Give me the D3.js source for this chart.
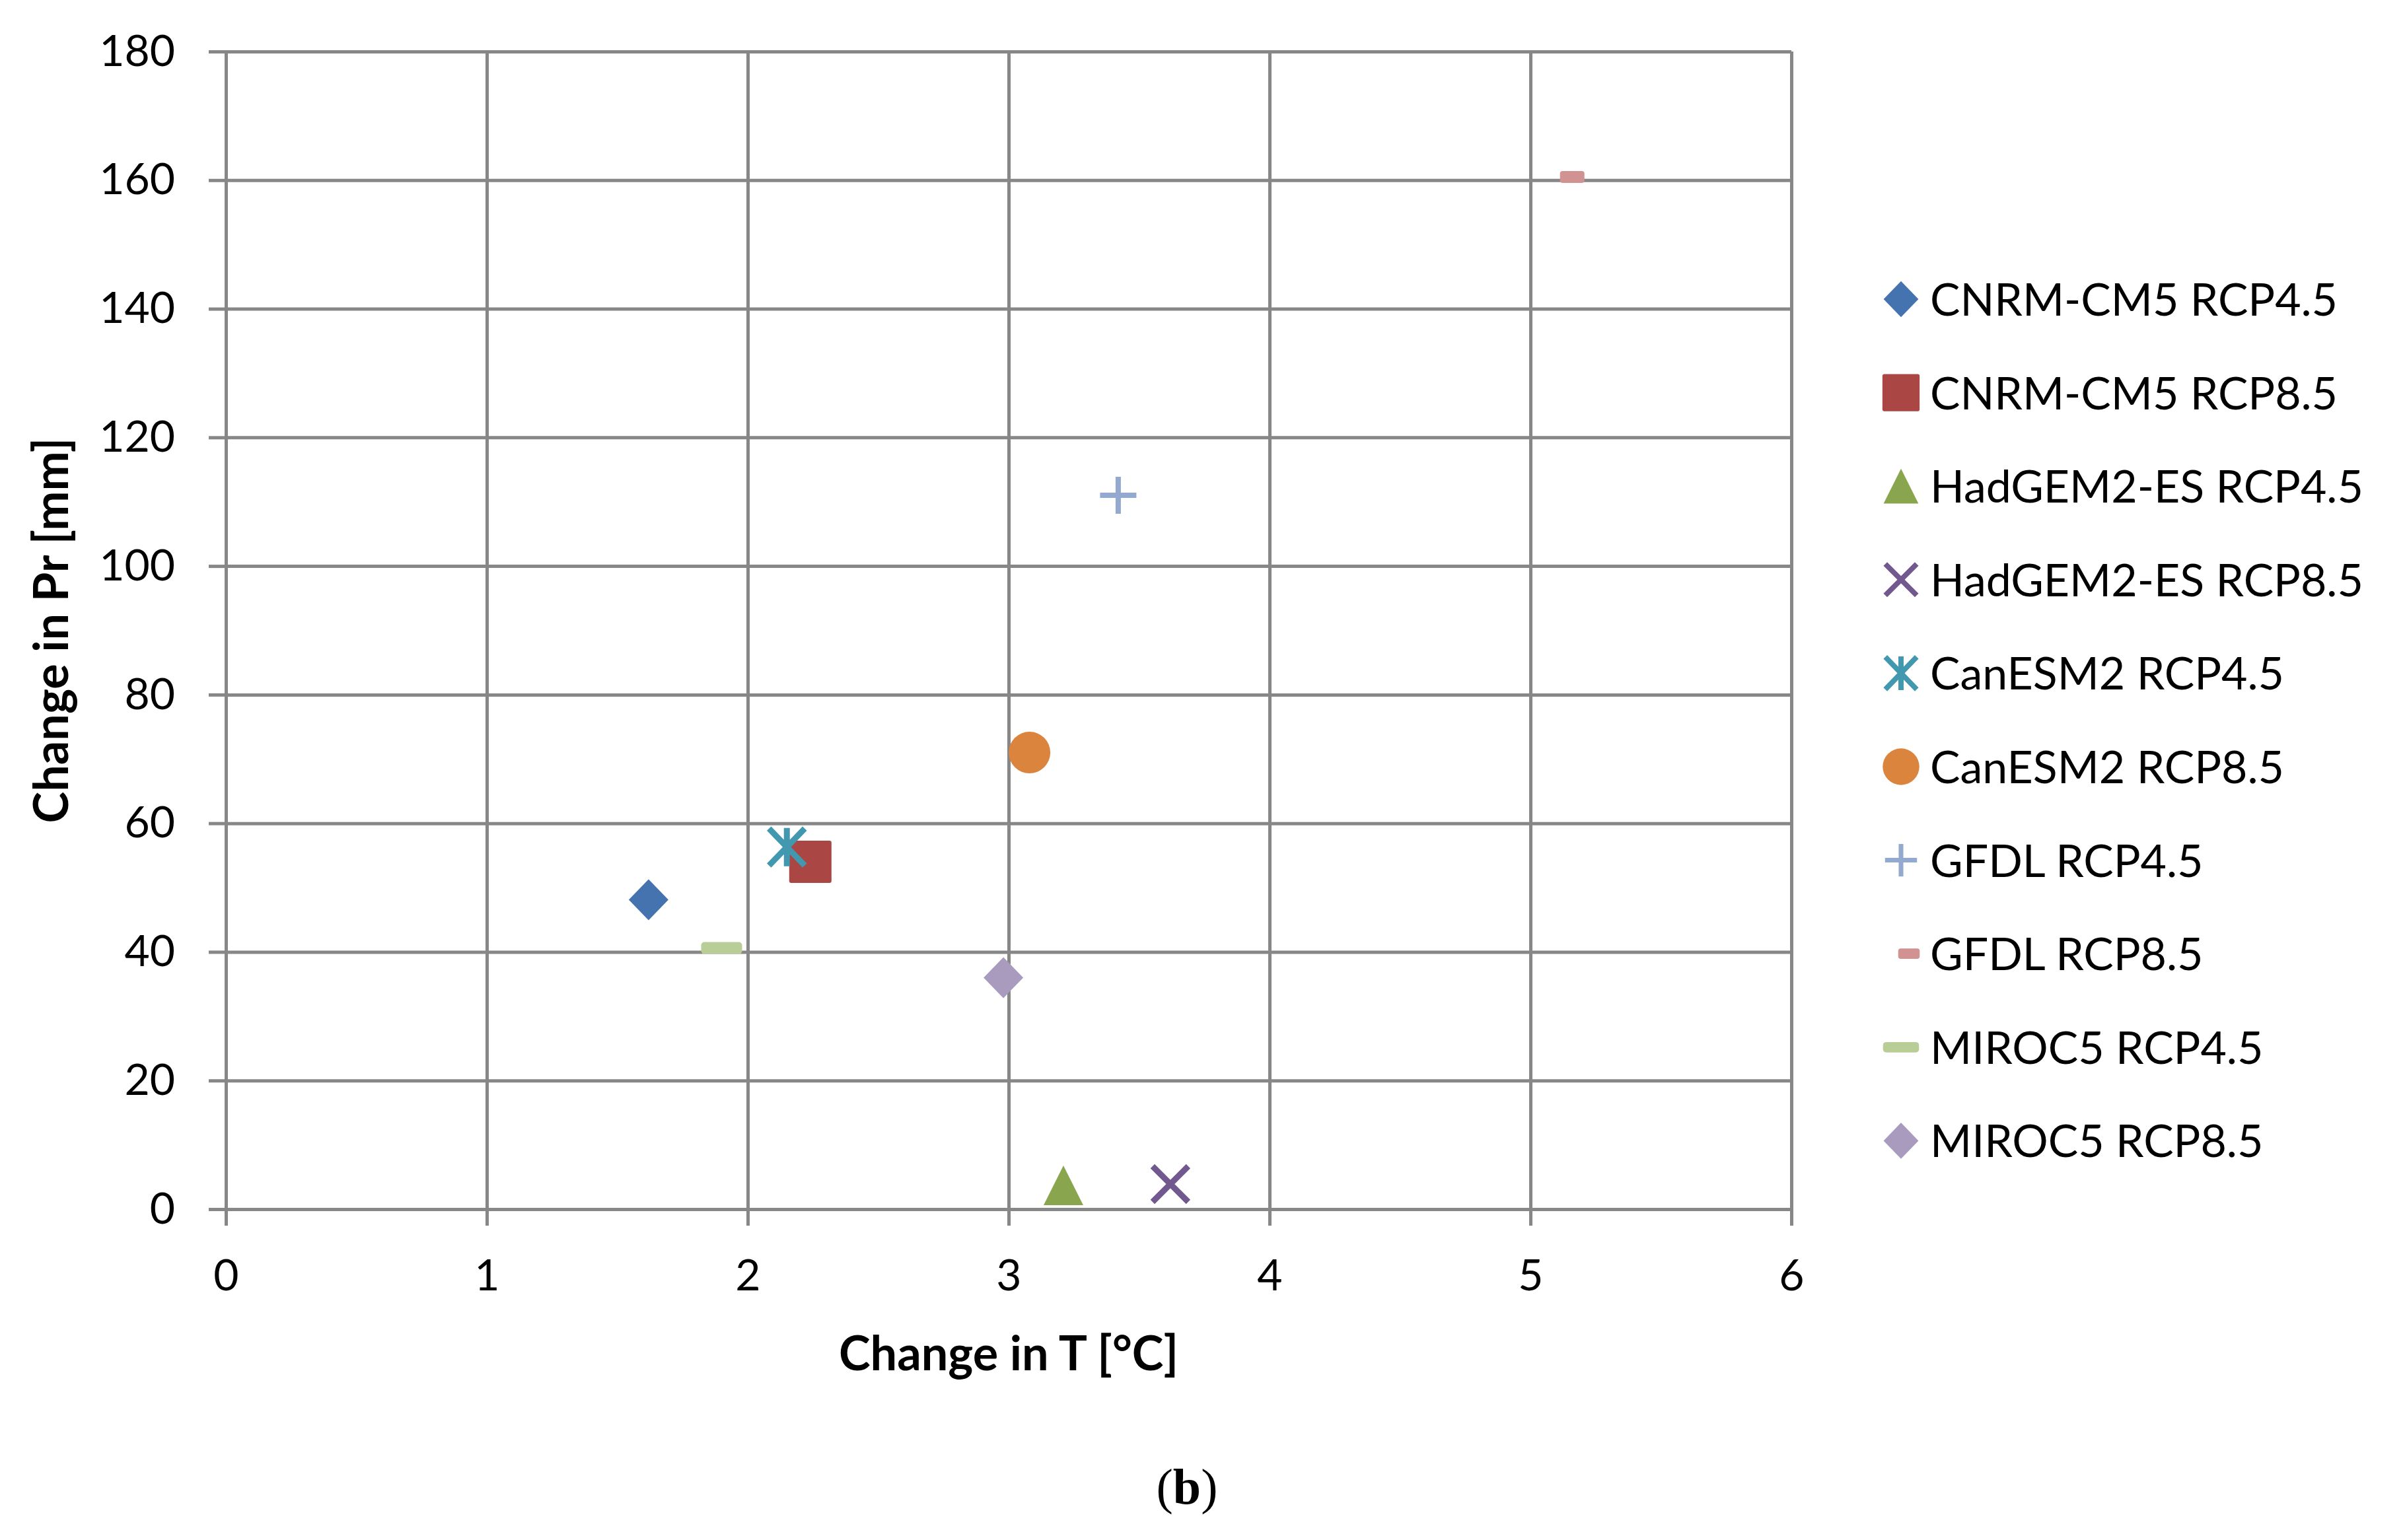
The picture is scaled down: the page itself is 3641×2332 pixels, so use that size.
<!DOCTYPE html>
<html>
<head>
<meta charset="utf-8">
<script src="https://cdn.jsdelivr.net/npm/d3@7"></script>
<style>
  body { margin: 0; background: #fff; }
  text { font-family: Lato, "Open Sans", sans-serif; fill: #000; }
</style>
</head>
<body>
<div id="chart"></div>
<script>
// scatter of model runs: change in temperature vs change in precipitation

var seriesNames = ['CNRM-CM5 RCP4.5', 'CNRM-CM5 RCP8.5', 'HadGEM2-ES RCP4.5', 'HadGEM2-ES RCP8.5',
  'CanESM2 RCP4.5', 'CanESM2 RCP8.5', 'GFDL RCP4.5', 'GFDL RCP8.5', 'MIROC5 RCP4.5', 'MIROC5 RCP8.5'];
var tempChange = [1.62, 2.24, 3.21, 3.62, 2.15, 3.08, 3.42, 5.16, 1.90, 2.98];
var precipChange = [48.1, 54.0, 3.7, 3.9, 56.3, 71.0, 111.0, 160.5, 40.6, 36.0];
var seriesColors = ['#4573b0', '#aa4643', '#89a54e', '#71588f', '#4198af',
  '#db843d', '#93a9cf', '#d19392', '#b9cd96', '#a99bbd'];
var seriesShapes = ['diamond', 'square', 'triangle', 'x', 'star', 'circle', 'plus', 'shortDash', 'dash', 'diamond'];

var xTicks = [0, 1, 2, 3, 4, 5, 6];
var yTicks = [0, 20, 40, 60, 80, 100, 120, 140, 160, 180];

var svgWidth = 3641;
var svgHeight = 2332;

var margin = { top: 78, left: 342, right: 929, bottom: 501 };
var width = svgWidth - margin.left - margin.right;
var height = svgHeight - margin.top - margin.bottom;
var gridColor = '#878787';

var svg = d3.select('#chart')
  .append('svg')
  .attr('width', svgWidth)
  .attr('height', svgHeight);

svg.append('rect')
  .attr('width', svgWidth)
  .attr('height', svgHeight)
  .attr('fill', '#fff');

var chartGroup = svg.append('g')
  .attr('transform', `translate(${margin.left}, ${margin.top})`);

var xScale = d3.scaleLinear().domain([0, 6]).range([0, width]);
var yScale = d3.scaleLinear().domain([0, 180]).range([height, 0]);

// grid lines
chartGroup.append('g')
  .attr('class', 'grid')
  .call(d3.axisLeft(yScale).tickValues(yTicks).tickSize(-width).tickFormat(''));

chartGroup.append('g')
  .attr('class', 'grid')
  .call(d3.axisBottom(xScale).tickValues(xTicks).tickSize(-height).tickFormat(''))
  .attr('transform', `translate(0, ${height})`);

// axes with outside ticks and labels
chartGroup.append('g')
  .attr('class', 'axis')
  .call(d3.axisLeft(yScale).tickValues(yTicks).tickFormat(d3.format('d'))
    .tickSize(26).tickSizeOuter(0).tickPadding(51));

chartGroup.append('g')
  .attr('class', 'axis')
  .attr('transform', `translate(0, ${height})`)
  .call(d3.axisBottom(xScale).tickValues(xTicks).tickFormat(d3.format('d'))
    .tickSize(25).tickSizeOuter(0).tickPadding(51));

svg.selectAll('.grid .domain').remove();
svg.selectAll('.grid line, .axis line, .axis .domain')
  .attr('stroke', gridColor)
  .attr('stroke-width', 5);
svg.selectAll('.axis text')
  .attr('font-family', 'Lato')
  .attr('font-size', 66)
  .attr('fill', '#000');

// marker glyphs, k scales the size
function drawMarker(g, shape, color, k) {
  switch (shape) {
    case 'diamond':
      g.append('path')
        .attr('d', `M0,${-31 * k}L${30 * k},0L0,${31 * k}L${-30 * k},0Z`)
        .attr('fill', color);
      break;
    case 'square':
      g.append('rect')
        .attr('x', -32 * k).attr('y', -32 * k)
        .attr('width', 64 * k).attr('height', 64 * k)
        .attr('rx', 3).attr('fill', color);
      break;
    case 'triangle':
      g.append('path')
        .attr('d', `M0,${-30 * k}L${30 * k},${30 * k}L${-30 * k},${30 * k}Z`)
        .attr('fill', color);
      break;
    case 'x':
      g.append('path')
        .attr('d', `M${-27 * k},${-27 * k}L${27 * k},${27 * k}M${-27 * k},${27 * k}L${27 * k},${-27 * k}`)
        .attr('stroke', color).attr('stroke-width', 9 * k).attr('fill', 'none');
      break;
    case 'star':
      g.append('path')
        .attr('d', `M${-27 * k},${-28 * k}L${27 * k},${28 * k}M${-27 * k},${28 * k}L${27 * k},${-28 * k}M0,${-29 * k}L0,${29 * k}`)
        .attr('stroke', color).attr('stroke-width', 9 * k).attr('fill', 'none');
      break;
    case 'circle':
      g.append('circle').attr('r', 31.5 * k).attr('fill', color);
      break;
    case 'plus':
      g.append('path')
        .attr('d', `M${-27.5 * k},0L${27.5 * k},0M0,${-28 * k}L0,${28 * k}`)
        .attr('stroke', color).attr('stroke-width', 8 * k).attr('fill', 'none');
      break;
    case 'shortDash':
      g.append('rect')
        .attr('x', -18.5 * k).attr('y', -9 * k)
        .attr('width', 37 * k).attr('height', 18 * k)
        .attr('rx', 4).attr('fill', color);
      break;
    case 'dash':
      g.append('rect')
        .attr('x', -31 * k).attr('y', -9 * k)
        .attr('width', 62 * k).attr('height', 18 * k)
        .attr('rx', 5).attr('fill', color);
      break;
  }
}

// points
seriesNames.forEach(function(name, i) {
  var g = chartGroup.append('g')
    .attr('class', 'point')
    .attr('transform', `translate(${xScale(tempChange[i])}, ${yScale(precipChange[i])})`);
  drawMarker(g, seriesShapes[i], seriesColors[i], 1);
});

// legend
var legendX = 2878;
var legendY = 453;
var legendStep = 141.6;

seriesNames.forEach(function(name, i) {
  var row = svg.append('g')
    .attr('transform', `translate(${legendX}, ${legendY + i * legendStep})`);
  var shift = seriesShapes[i] === 'shortDash' ? 12 : 0;
  drawMarker(row.append('g').attr('transform', `translate(${shift}, 0)`),
    seriesShapes[i], seriesColors[i], 0.88);
  row.append('text')
    .attr('x', 44)
    .attr('y', 25)
    .attr('font-size', 68)
    .text(name);
});

// axis titles
svg.append('text')
  .attr('x', margin.left + width / 2)
  .attr('y', 2075)
  .attr('text-anchor', 'middle')
  .attr('font-weight', 'bold')
  .attr('font-size', 72)
  .text('Change in T [°C]');

svg.append('text')
  .attr('transform', `translate(103, ${margin.top + height / 2}) rotate(-90)`)
  .attr('text-anchor', 'middle')
  .attr('font-weight', 'bold')
  .attr('font-size', 72)
  .text('Change in Pr [mm]');

// panel label
var panel = svg.append('text')
  .attr('x', 1797)
  .attr('y', 2277)
  .attr('text-anchor', 'middle')
  .style('font-family', '"Liberation Serif", serif')
  .attr('font-size', 76);
panel.append('tspan').text('(');
panel.append('tspan').attr('font-weight', 'bold').text('b');
panel.append('tspan').text(')');
</script>
</body>
</html>
